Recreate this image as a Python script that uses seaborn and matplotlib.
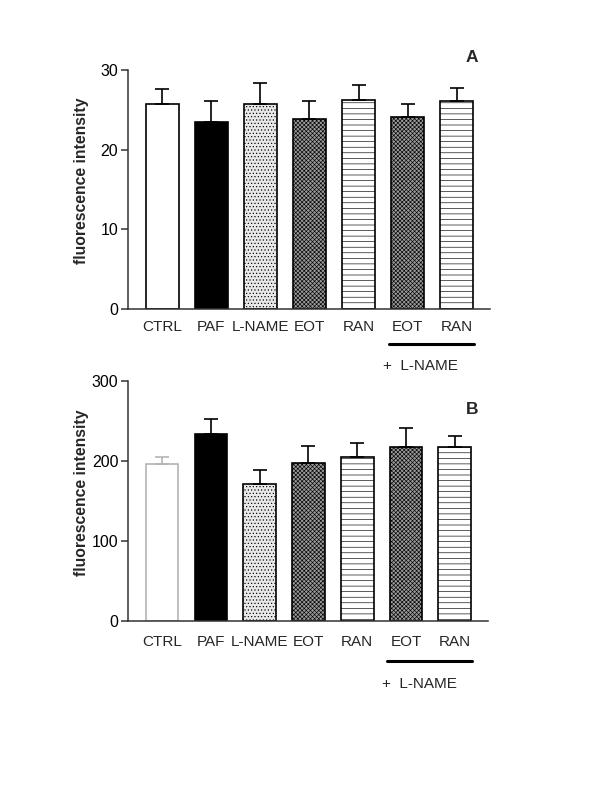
import pandas as pd
import seaborn as sns
import matplotlib.pyplot as plt
import matplotlib.transforms as mtransforms

# groups (unique keys) and what is printed under each bar
groups = ['CTRL', 'PAF', 'L-NAME', 'EOT', 'RAN', 'EOT+L-NAME', 'RAN+L-NAME']
tick_labels = ['CTRL', 'PAF', 'L-NAME', 'EOT', 'RAN', 'EOT', 'RAN']

# panel A: mean and upper error (SEM)
mean_a = [25.7, 23.5, 25.7, 23.8, 26.2, 24.1, 26.1]
err_a = [1.9, 2.6, 2.6, 2.3, 1.9, 1.6, 1.6]

# panel B
mean_b = [196, 234, 171, 197, 205, 218, 218]
err_b = [9, 19, 18, 22, 17, 23, 13]

sns.set_style('ticks')
plt.rcParams['font.family'] = ['Liberation Sans', 'DejaVu Sans']
plt.rcParams['hatch.linewidth'] = 0.45

# face colour and hatch per bar
faces = ['white', 'black', '#e8e8e8', '#9a9a9a', 'white', '#9a9a9a', 'white']
hatches = [None, None, '.....', 'xxxxxxxx', '---', 'xxxxxxxx', '---']


def draw_panel(ax, means, errs, ymax, yticks, letter, letter_xy, line_y, text_y, pad, ctrl_gray):
    df = pd.DataFrame({'group': groups, 'value': means})
    sns.barplot(data=df, x='group', y='value', order=groups, width=0.67,
                color='white', edgecolor='black', linewidth=1.2, ax=ax)
    for i, bar in enumerate(ax.patches):
        bar.set_facecolor(faces[i])
        if hatches[i]:
            bar.set_hatch(hatches[i])
        if i == 0 and ctrl_gray:
            bar.set_edgecolor('#b4b4b4')

    for i in range(len(groups)):
        col = '#b4b4b4' if (i == 0 and ctrl_gray) else 'black'
        ax.errorbar(i, means[i], yerr=[[0], [errs[i]]], fmt='none', ecolor=col,
                    elinewidth=1.2, capsize=4.8, capthick=1.2, zorder=3)

    ax.set_xlim(-0.7, 6.68)
    ax.set_ylim(0, ymax)
    ax.set_yticks(yticks)
    ax.set_xticks(range(len(groups)))
    ax.set_xticklabels(tick_labels, fontsize=11)
    ax.tick_params(axis='x', length=0, pad=pad)
    ax.tick_params(axis='y', labelsize=11.5, length=5, width=1.1, pad=2, colors='#333333')
    ax.tick_params(axis='y', labelcolor='black')
    ax.set_xlabel('')
    ax.set_ylabel('fluorescence intensity', fontsize=11.3, fontweight='bold')
    ax.yaxis.set_label_coords(-0.108, 0.535)
    sns.despine(ax=ax)
    for s in ['left', 'bottom']:
        ax.spines[s].set_linewidth(1.1)
        ax.spines[s].set_color('#333333')

    ax.text(letter_xy[0], letter_xy[1], letter, transform=ax.transAxes,
            fontsize=12.5, fontweight='bold', ha='center', va='center')

    trans = mtransforms.blended_transform_factory(ax.transData, ax.transAxes)
    ax.plot([4.62, 6.35], [line_y, line_y], color='black', lw=2.2,
            transform=trans, clip_on=False)
    ax.text(4.5, text_y, '+  L-NAME', transform=trans, fontsize=11,
            ha='left', va='center')


fig = plt.figure(figsize=(6, 8), dpi=100)
ax_a = fig.add_axes([0.2133, 0.6138, 0.6034, 0.2988])
ax_b = fig.add_axes([0.2133, 0.22375, 0.6, 0.3])

draw_panel(ax_a, mean_a, err_a, 30, [0, 10, 20, 30], 'A', (0.95, 1.054),
           -0.146, -0.238, 8, False)
draw_panel(ax_b, mean_b, err_b, 300, [0, 100, 200, 300], 'B', (0.955, 0.883),
           -0.167, -0.2625, 10, True)

fig.savefig('out.png', dpi=100)
